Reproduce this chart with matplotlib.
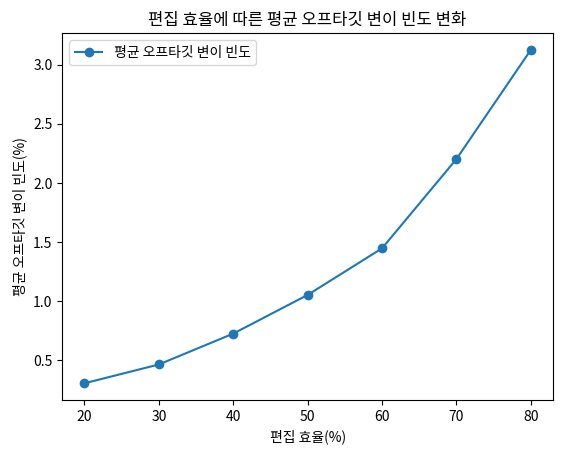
import matplotlib
matplotlib.use("Agg")
import matplotlib.pyplot as plt

plt.rcParams['font.family'] = ['Noto Sans CJK KR', 'DejaVu Sans']

edit_eff = [20, 30, 40, 50, 60, 70, 80]
offtarget = [0.307, 0.466, 0.727, 1.054, 1.448, 2.203, 3.126]

fig, ax = plt.subplots(figsize=(5.65, 4.55), dpi=100)
ax.plot(edit_eff, offtarget, marker='o', color='#1f77b4', label='평균 오프타깃 변이 빈도')
ax.set_title('편집 효율에 따른 평균 오프타깃 변이 빈도 변화')
ax.set_xlabel('편집 효율(%)')
ax.set_ylabel('평균 오프타깃 변이 빈도(%)')
ax.legend(loc='upper left')
fig.subplots_adjust(left=0.11, right=0.979, bottom=0.121, top=0.927)
fig.savefig('out.png', dpi=100)
